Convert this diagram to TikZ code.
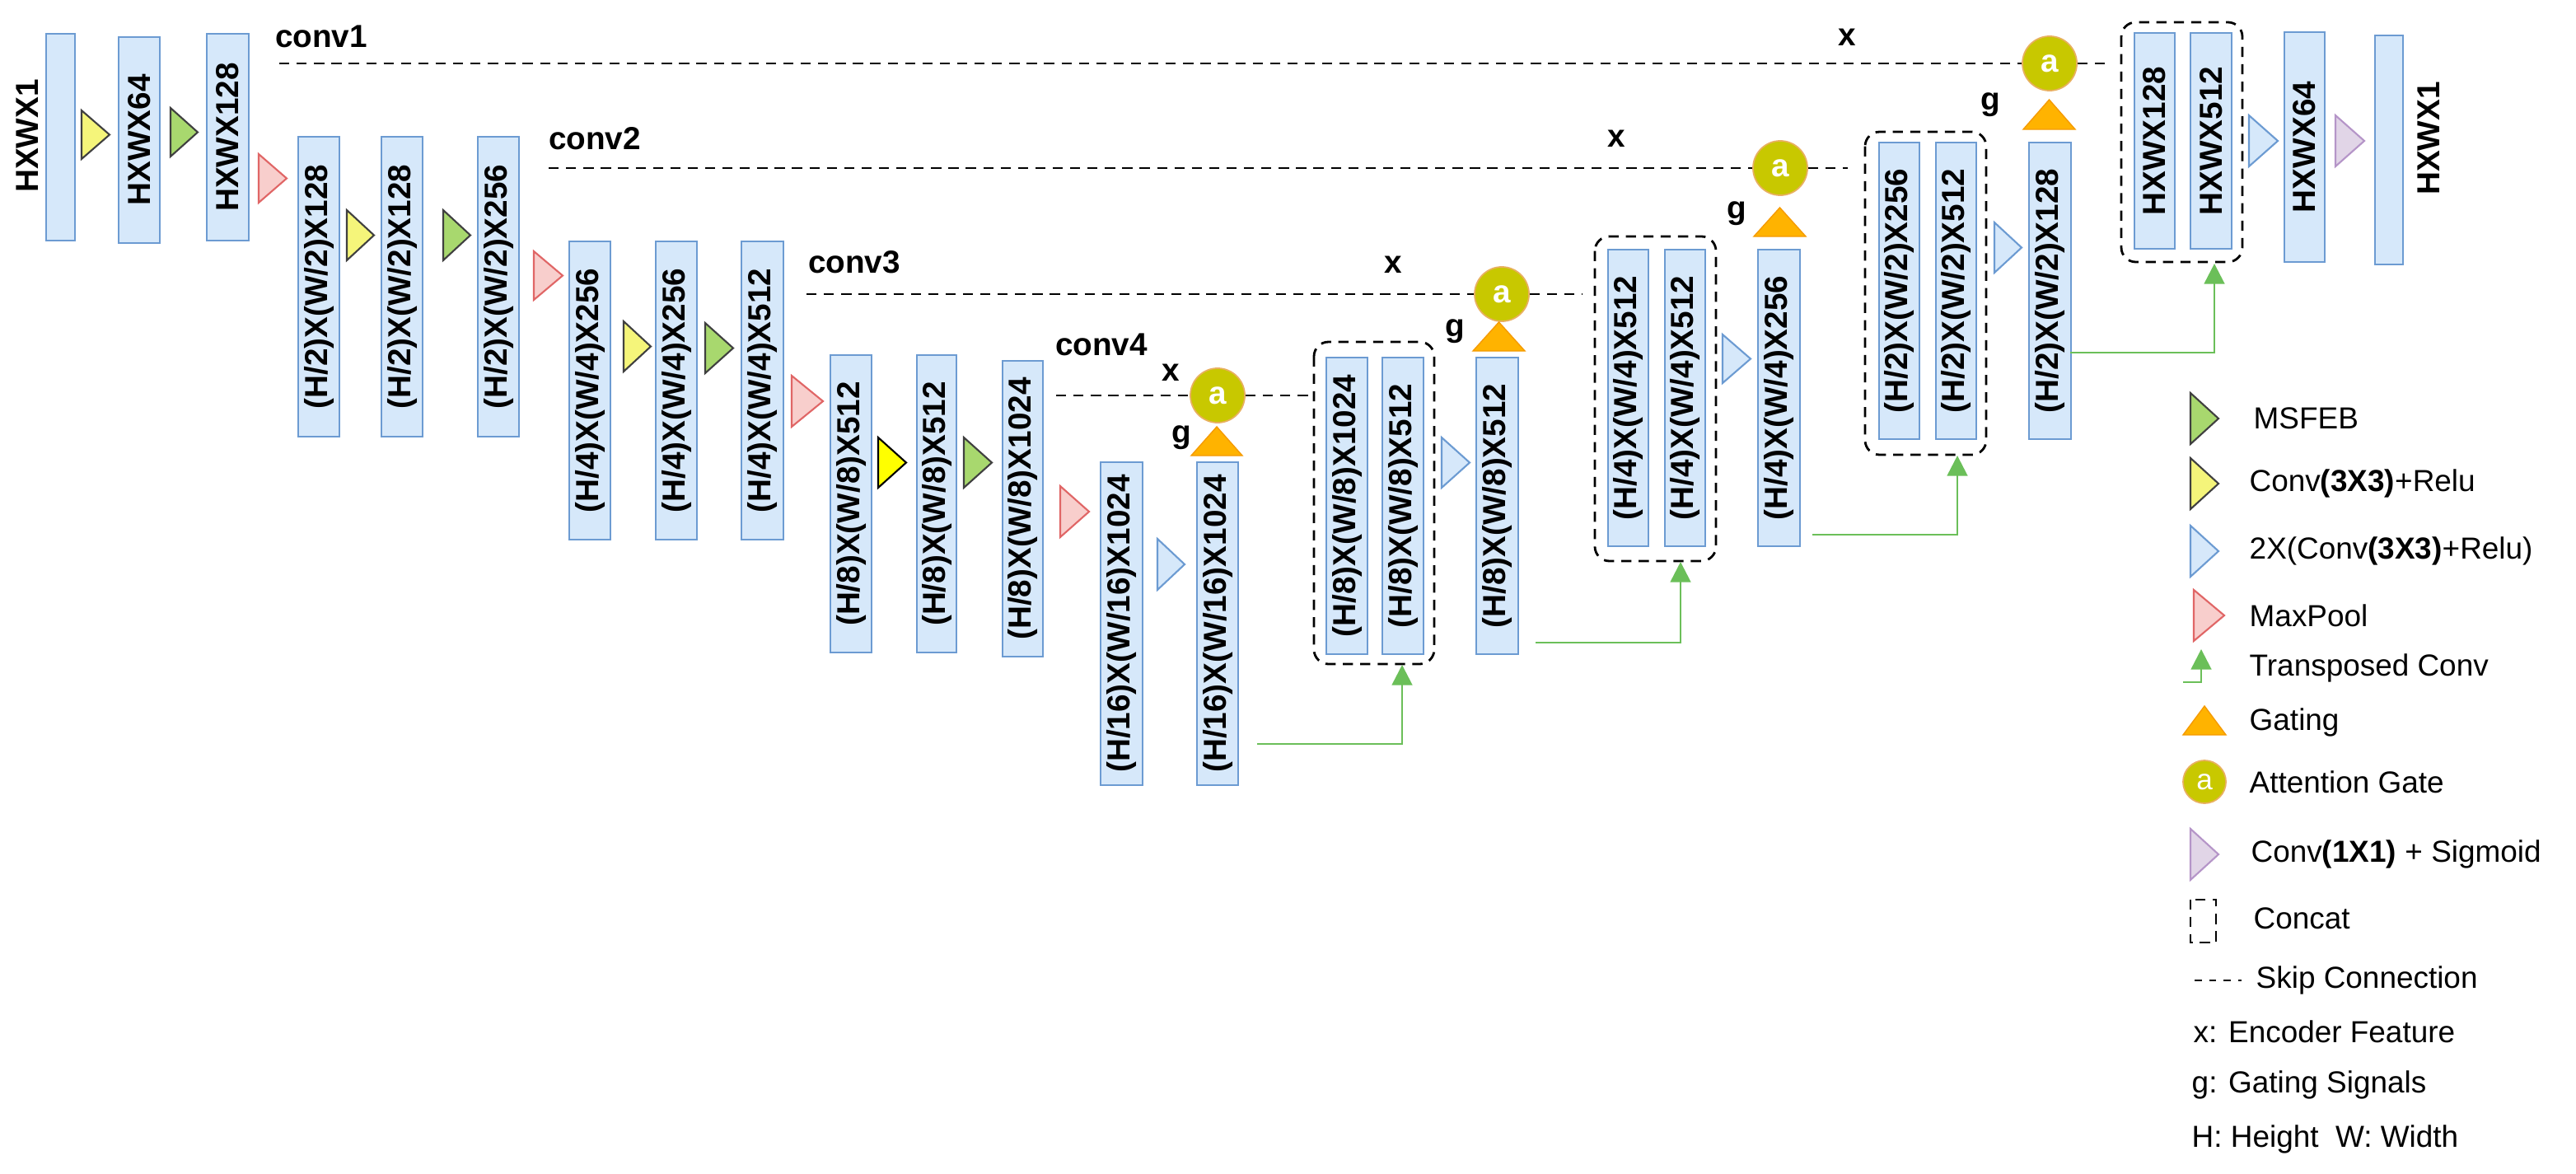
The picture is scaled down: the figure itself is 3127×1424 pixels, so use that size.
\documentclass[tikz,border=0pt]{standalone}
\usepackage{fontspec}
\setmainfont{Liberation Sans}
\usetikzlibrary{arrows.meta}
\definecolor{bfill}{HTML}{D6E8FA}
\definecolor{bline}{HTML}{6C9BD2}
\definecolor{gfill}{HTML}{A8D86E}
\definecolor{yfill}{HTML}{F5F57A}
\definecolor{yybright}{HTML}{FFFF00}
\definecolor{rfill}{HTML}{F8CECC}
\definecolor{rline}{HTML}{E06666}
\definecolor{pfill}{HTML}{E1D5E7}
\definecolor{pline}{HTML}{B595C8}
\definecolor{afill}{HTML}{C8C800}
\definecolor{aline}{HTML}{E8B060}
\definecolor{ofill}{HTML}{FFB300}
\definecolor{oline}{HTML}{F59A00}
\definecolor{garr}{HTML}{6BBF59}
\tikzset{
  blk/.style={fill=bfill,draw=bline,line width=0.6pt},
  lbl/.style={font=\fontsize{11}{13}\selectfont\bfseries,inner sep=0pt},
  tg/.style={fill=gfill,draw=black!75,line width=0.6pt},
  ty/.style={fill=yfill,draw=black!75,line width=0.6pt},
  tyb/.style={fill=yybright,draw=black,line width=0.6pt},
  tr/.style={fill=rfill,draw=rline,line width=0.6pt},
  tb/.style={fill=bfill,draw=bline,line width=0.6pt},
  tp/.style={fill=pfill,draw=pline,line width=0.6pt},
  gate/.style={fill=ofill,draw=oline,line width=0.4pt},
  att/.style={circle,fill=afill,draw=aline,line width=0.5pt,minimum size=0.66cm,inner sep=0pt,text=white,font=\fontsize{11}{13}\selectfont\bfseries},
  skip/.style={dash pattern=on 3.5pt off 2.5pt,line width=0.8pt},
  cat/.style={dash pattern=on 3.5pt off 2.5pt,line width=0.8pt,rounded corners=5pt},
  garrow/.style={draw=garr,line width=0.8pt,-{Triangle[width=7pt,length=7pt]}},
  bt/.style={font=\fontsize{11}{13}\selectfont\bfseries,inner sep=0pt},
  leg/.style={font=\fontsize{10.5}{12}\selectfont,anchor=west,inner sep=0pt}
}
\newcommand{\blk}[6]{\draw[blk] (#2,#4) rectangle (#3,#5); \node[lbl,rotate=90] (#1) at ({(#2+#3)/2},{(#4+#5)/2}) {#6};}
\newcommand{\rtri}[5]{\filldraw[#1] (#2,#4) -- (#3,{(#4+#5)/2}) -- (#2,#5) -- cycle;}
\newcommand{\gtri}[4]{\filldraw[gate] (#1,#4) -- ({(#1+#2)/2},#3) -- (#2,#4) -- cycle;}
\begin{document}
\begin{tikzpicture}[x=0.01cm,y=-0.01cm]
\useasboundingbox (0,0) rectangle (3127,1424);
% encoder
\node[lbl,rotate=90] (in) at (33,165) {HXWX1};
\draw[blk] (56,41) rectangle (91,292);
\blk{e01}{144}{194}{45}{295}{HXWX64}
\blk{e02}{251}{302}{41}{292}{HXWX128}
\rtri{ty}{99}{133}{134}{193}
\rtri{tg}{207}{240}{131}{190}
\rtri{tr}{314}{348}{187}{246}
\blk{e11}{362}{412}{166}{530}{(H/2)X(W/2)X128}
\blk{e12}{463}{513}{166}{530}{(H/2)X(W/2)X128}
\blk{e13}{580}{630}{166}{530}{(H/2)X(W/2)X256}
\rtri{ty}{421}{454}{255}{316}
\rtri{tg}{538}{571}{255}{316}
\rtri{tr}{648}{683}{305}{364}
\blk{e21}{691}{741}{293}{655}{(H/4)X(W/4)X256}
\blk{e22}{796}{846}{293}{655}{(H/4)X(W/4)X256}
\blk{e23}{900}{951}{293}{655}{(H/4)X(W/4)X512}
\rtri{ty}{757}{790}{390}{451}
\rtri{tg}{856}{890}{392}{453}
\rtri{tr}{961}{999}{456}{518}
\blk{e31}{1008}{1058}{431}{792}{(H/8)X(W/8)X512}
\blk{e32}{1113}{1161}{431}{792}{(H/8)X(W/8)X512}
\blk{e33}{1217}{1266}{438}{797}{(H/8)X(W/8)X1024}
\rtri{tyb}{1066}{1100}{531}{592}
\rtri{tg}{1170}{1204}{531}{592}
\rtri{tr}{1287}{1322}{590}{652}
\blk{e41}{1336}{1387}{561}{953}{(H/16)X(W/16)X1024}
\rtri{tb}{1405}{1438}{654}{716}
\blk{d41}{1453}{1503}{561}{953}{(H/16)X(W/16)X1024}
% conv labels and skips
\node[bt] (c1) at (390,44) {conv1};
\node[bt] (c2) at (722,168) {conv2};
\node[bt] (c3) at (1037,318) {conv3};
\node[bt] (c4) at (1337,418) {conv4};
\coordinate (s1) at (339,77); \coordinate (s2) at (666,204); \coordinate (s3) at (979,357); \coordinate (s4) at (1282,480);
\node[att] (a1) at (2488,77) {a};
\node[att] (a2) at (2161,204) {a};
\node[att] (a3) at (1823,357) {a};
\node[att] (a4) at (1478,480) {a};
\draw[skip] (s1) -- (a1); \draw[skip] (s2) -- (a2); \draw[skip] (s3) -- (a3); \draw[skip] (s4) -- (a4);
\coordinate (k1) at (2562,77); \coordinate (k2) at (2243,204); \coordinate (k3) at (1921,357); \coordinate (k4) at (1590,480);
\draw[skip] (a1) -- (k1); \draw[skip] (a2) -- (k2); \draw[skip] (a3) -- (k3); \draw[skip] (a4) -- (k4);
\node[bt] (x1) at (2242,45) {x}; \node[bt] (x2) at (1962,168) {x};
\node[bt] (x3) at (1691,321) {x}; \node[bt] (x4) at (1421,452) {x};
\node[bt] (g1) at (2416,127) {g}; \node[bt] (g2) at (2108,259) {g};
\node[bt] (g3) at (1766,402) {g}; \node[bt] (g4) at (1434,531) {g};
\gtri{2456}{2519}{121}{157}
\gtri{2129}{2192}{252}{287}
\gtri{1788}{1851}{391}{426}
\gtri{1446}{1508}{518}{553}
% decoder stage 3
\draw[cat] (1595,415) rectangle (1741,806);
\blk{c31}{1610}{1660}{434}{794}{(H/8)X(W/8)X1024}
\blk{c32}{1678}{1728}{434}{794}{(H/8)X(W/8)X512}
\rtri{tb}{1750}{1784}{531}{592}
\blk{d31}{1792}{1843}{434}{794}{(H/8)X(W/8)X512}
% decoder stage 2
\draw[cat] (1936,287) rectangle (2083,681);
\blk{c21}{1952}{2001}{303}{663}{(H/4)X(W/4)X512}
\blk{c22}{2021}{2070}{303}{663}{(H/4)X(W/4)X512}
\rtri{tb}{2091}{2125}{406}{465}
\blk{d21}{2134}{2185}{303}{663}{(H/4)X(W/4)X256}
% decoder stage 1
\draw[cat] (2264,160) rectangle (2411,552);
\blk{c11}{2281}{2330}{173}{533}{(H/2)X(W/2)X256}
\blk{c12}{2350}{2399}{173}{533}{(H/2)X(W/2)X512}
\rtri{tb}{2421}{2454}{270}{331}
\blk{d11}{2463}{2514}{173}{533}{(H/2)X(W/2)X128}
% decoder stage 0
\draw[cat] (2575,27) rectangle (2722,318);
\blk{c01}{2591}{2640}{40}{302}{HXWX128}
\blk{c02}{2659}{2709}{40}{302}{HXWX512}
\rtri{tb}{2730}{2765}{140}{202}
\blk{d01}{2773}{2822}{39}{318}{HXWX64}
\rtri{tp}{2835}{2870}{140}{202}
\draw[blk] (2883,43) rectangle (2917,321);
\node[lbl,rotate=90] (out) at (2948,168) {HXWX1};
% transposed conv arrows
\coordinate (u1) at (1526,903); \coordinate (v1) at (1702,807);
\coordinate (u2) at (1864,780); \coordinate (v2) at (2040,682);
\coordinate (u3) at (2200,649); \coordinate (v3) at (2376,553);
\coordinate (u4) at (2513,428); \coordinate (v4) at (2688,320);
\draw[garrow] (u1) -| (v1); \draw[garrow] (u2) -| (v2);
\draw[garrow] (u3) -| (v3); \draw[garrow] (u4) -| (v4);
% legend
\rtri{tg}{2659}{2693}{477}{539}
\node[leg] (l1) at (2735,508) {MSFEB};
\rtri{ty}{2659}{2693}{556}{618}
\node[leg] (l2) at (2730,587) {Conv\textbf{(3X3)}+Relu};
\rtri{tb}{2659}{2693}{638}{700}
\node[leg] (l3) at (2730,669) {2X(Conv\textbf{(3X3)}+Relu)};
\rtri{tr}{2663}{2700}{716}{778}
\node[leg] (l4) at (2730,747) {MaxPool};
\coordinate (lt0) at (2650,828); \coordinate (lt1) at (2672,788);
\draw[garrow] (lt0) -| (lt1);
\node[leg] (l5) at (2730,811) {Transposed Conv};
\gtri{2650}{2702}{857}{892}
\node[leg] (l6) at (2730,877) {Gating};
\node[att,minimum size=0.52cm,font=\fontsize{10}{12}\selectfont] (la) at (2676,949) {a};
\node[leg] (l7) at (2730,949) {Attention Gate};
\rtri{tp}{2659}{2693}{1006}{1068}
\node[leg] (l8) at (2732,1037) {Conv\textbf{(1X1)} + Sigmoid};
\draw[dash pattern=on 3.5pt off 2.5pt,line width=0.7pt] (2659,1092) rectangle (2690,1144);
\node[leg] (l9) at (2735,1115) {Concat};
\coordinate (ls0) at (2664,1190); \coordinate (ls1) at (2721,1190);
\draw[dash pattern=on 2.5pt off 2.5pt,line width=0.7pt] (ls0) -- (ls1);
\node[leg] (l10) at (2738,1190) {Skip Connection};
\node[leg] (l11) at (2662,1252) {x: Encoder Feature};
\node[leg] (l12) at (2660,1317) {g: Gating Signals};
\node[leg] (l13) at (2660,1383) {H: Height\ \ W: Width};
\end{tikzpicture}
\end{document}
